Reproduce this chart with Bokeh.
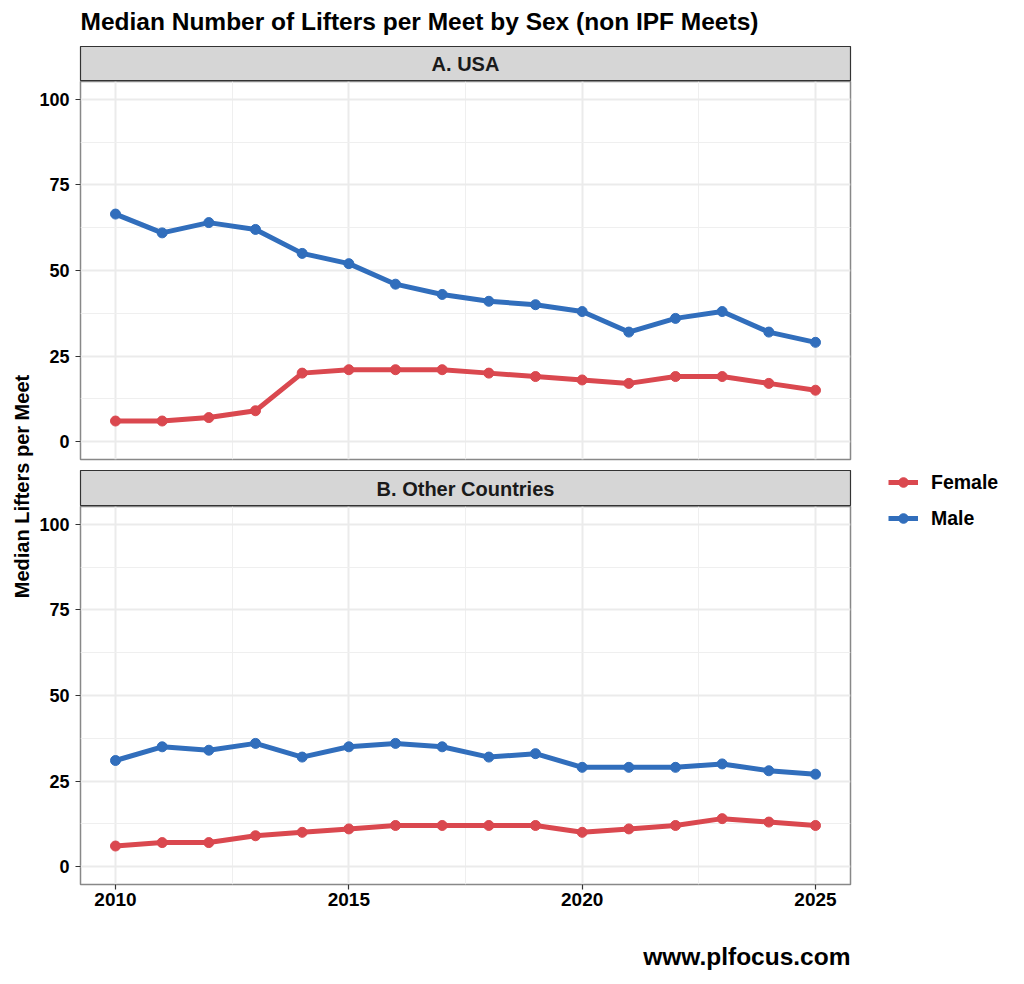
import math
from bokeh.plotting import figure
from bokeh.layouts import row, column
from bokeh.models import Range1d, FixedTicker, Legend, LegendItem, ColumnDataSource
from bokeh.core.properties import value
from bokeh.embed import file_html
from bokeh.resources import INLINE

# ---------------- data ----------------
years = [2010, 2011, 2012, 2013, 2014, 2015, 2016, 2017,
         2018, 2019, 2020, 2021, 2022, 2023, 2024, 2025]
usa_female = [6, 6, 7, 9, 20, 21, 21, 21, 20, 19, 18, 17, 19, 19, 17, 15]
usa_male = [66.5, 61, 64, 62, 55, 52, 46, 43, 41, 40, 38, 32, 36, 38, 32, 29]
other_female = [6, 7, 7, 9, 10, 11, 12, 12, 12, 12, 10, 11, 12, 14, 13, 12]
other_male = [31, 35, 34, 36, 32, 35, 36, 35, 32, 33, 29, 29, 29, 30, 28, 27]

panel_labels = ["A. USA", "B. Other Countries"]
series_labels = ["Female", "Male"]
x_ticks = [2010, 2015, 2020, 2025]
x_minor = [2012.5, 2017.5, 2022.5]
y_ticks = [0, 25, 50, 75, 100]
y_minor = [12.5, 37.5, 62.5, 87.5]

title_text = "Median Number of Lifters per Meet by Sex (non IPF Meets)"
y_label_text = "Median Lifters per Meet"
footer_text = "www.plfocus.com"

# ---------------- style / layout ----------------
FONT = "Liberation Sans"
RED = "#DA484F"
BLUE = "#316EBC"
LW = 5
PT = 10
YLAB_W = 34
LEFT = 46
RIGHT = 8
FW = 770
FH = 378
TOTAL_H = 980
LEG_W = 1024 - YLAB_W - LEFT - FW - RIGHT


def deco(w, h):
    p = figure(frame_width=w, frame_height=h, min_border=0,
               x_range=Range1d(0, w), y_range=Range1d(0, h),
               x_axis_location=None, y_axis_location=None,
               toolbar_location=None, output_backend="svg")
    p.outline_line_color = None
    p.grid.visible = False
    p.background_fill_color = "white"
    p.border_fill_color = "white"
    return p


def col_deco(h):
    p = figure(frame_width=FW, frame_height=h,
               min_border_left=LEFT, min_border_right=RIGHT,
               min_border_top=0, min_border_bottom=0,
               x_range=Range1d(0, FW), y_range=Range1d(0, h),
               x_axis_location=None, y_axis_location=None,
               toolbar_location=None, output_backend="svg")
    p.outline_line_color = None
    p.grid.visible = False
    p.background_fill_color = "white"
    p.border_fill_color = "white"
    return p


def strip(label, h):
    p = col_deco(h)
    p.background_fill_color = "#D6D6D6"
    p.outline_line_color = "#333333"
    p.outline_line_width = 1.2
    p.text(x=[FW / 2], y=[h / 2], text=[label], text_font=value(FONT),
           text_font_style="bold", text_font_size="20px", text_color="#1A1A1A",
           text_align="center", text_baseline="middle")
    return p


def panel(female, male, bottom):
    p = figure(frame_width=FW, frame_height=FH,
               x_range=Range1d(2009.25, 2025.75), y_range=Range1d(-5.25, 105.25),
               min_border_left=LEFT, min_border_right=RIGHT,
               min_border_top=0, min_border_bottom=(40 if bottom else 11),
               toolbar_location=None, output_backend="svg")
    p.background_fill_color = "white"
    p.border_fill_color = "white"
    p.outline_line_color = "#888888"
    p.outline_line_width = 1.5
    xt = FixedTicker(ticks=x_ticks, minor_ticks=x_minor)
    yt = FixedTicker(ticks=y_ticks, minor_ticks=y_minor)
    p.xaxis.ticker = xt
    p.yaxis.ticker = yt
    for g in (p.xgrid, p.ygrid):
        g.grid_line_color = "#EBEBEB"
        g.grid_line_width = 2.0
        g.minor_grid_line_color = "#EFEFEF"
        g.minor_grid_line_width = 1.0
    for ax in (p.xaxis, p.yaxis):
        ax.axis_line_color = None
        ax.major_tick_line_color = "#333333"
        ax.major_tick_line_width = 1.2
        ax.major_tick_out = 5
        ax.major_tick_in = 0
        ax.minor_tick_line_color = None
        ax.major_label_text_font = FONT
        ax.major_label_text_font_style = "bold"
        ax.major_label_text_color = "#000000"
    p.yaxis.major_label_text_font_size = "18px"
    p.xaxis.major_label_text_font_size = "19px"
    p.yaxis.major_label_standoff = 6
    p.xaxis.major_label_standoff = 3
    if not bottom:
        p.xaxis.visible = False
    src = ColumnDataSource(dict(year=years, female=female, male=male))
    p.line("year", "female", source=src, color=RED, line_width=LW)
    p.scatter("year", "female", source=src, color=RED, size=PT)
    p.line("year", "male", source=src, color=BLUE, line_width=LW)
    p.scatter("year", "male", source=src, color=BLUE, size=PT)
    return p


header = col_deco(46)
header.text(x=[0], y=[46 - 21], text=[title_text], text_font=value(FONT),
            text_font_style="bold", text_font_size="24.5px", text_color="#000000",
            text_align="left", text_baseline="middle")

strip_top = strip(panel_labels[0], 35)
fig_top = panel(usa_female, usa_male, False)
strip_bot = strip(panel_labels[1], 36)
fig_bot = panel(other_female, other_male, True)

FOOT_H = TOTAL_H - (46 + 35 + FH + 11 + 36 + FH + 40)
footer = col_deco(FOOT_H)
footer.text(x=[FW], y=[TOTAL_H - 956], text=[footer_text], text_font=value(FONT),
            text_font_style="bold", text_font_size="24.5px", text_color="#000000",
            text_align="right", text_baseline="middle")

ylab = deco(YLAB_W, TOTAL_H)
ylab.text(x=[21], y=[TOTAL_H - 486], text=[y_label_text], text_font=value(FONT),
          text_font_style="bold", text_font_size="20px", text_color="#000000",
          text_align="center", text_baseline="middle", angle=math.pi / 2)

# legend panel: its renderers hold the series but lie outside this panel's ranges
lg = figure(frame_width=LEG_W, frame_height=TOTAL_H, min_border=0,
            x_range=Range1d(0, 1), y_range=Range1d(0, 1),
            x_axis_location=None, y_axis_location=None,
            toolbar_location=None, output_backend="svg")
lg.outline_line_color = None
lg.grid.visible = False
lsrc = ColumnDataSource(dict(year=years, female=other_female, male=other_male))
fl = lg.line("year", "female", source=lsrc, color=RED, line_width=LW)
fs = lg.scatter("year", "female", source=lsrc, color=RED, size=PT)
ml = lg.line("year", "male", source=lsrc, color=BLUE, line_width=LW)
ms = lg.scatter("year", "male", source=lsrc, color=BLUE, size=PT)
legend = Legend(items=[LegendItem(label=series_labels[0], renderers=[fl, fs]),
                       LegendItem(label=series_labels[1], renderers=[ml, ms])],
                location=(30, TOTAL_H - 530), orientation="vertical",
                glyph_width=30, glyph_height=24, label_height=24, spacing=12,
                label_standoff=13, padding=0, margin=0,
                label_text_font=FONT, label_text_font_style="bold",
                label_text_font_size="19.5px", label_text_color="#000000",
                border_line_color=None, background_fill_alpha=0)
lg.add_layout(legend, "center")

layout = row(ylab, column(header, strip_top, fig_top, strip_bot, fig_bot, footer), lg)

open("out.html", "w").write(file_html(layout, INLINE))
